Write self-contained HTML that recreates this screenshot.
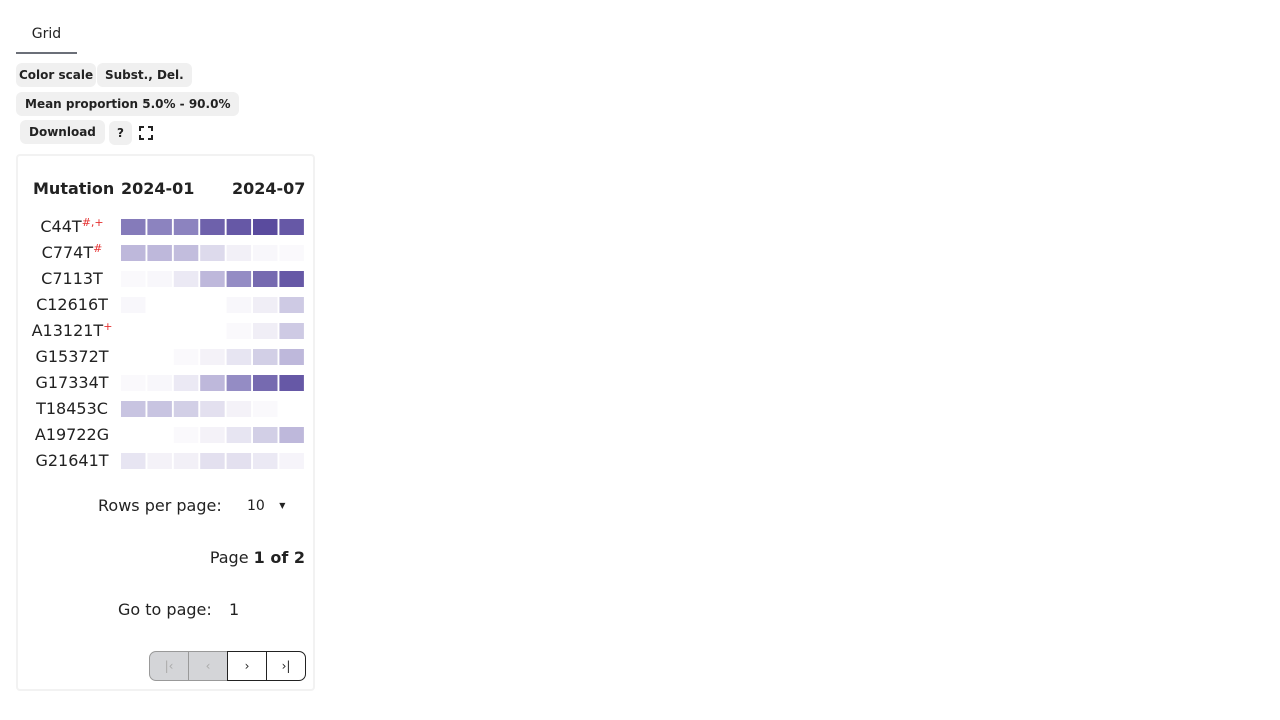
<!DOCTYPE html>
<html><head><meta charset="utf-8"><style>
body{margin:0;width:1280px;height:720px;background:#fff;font-family:"DejaVu Sans","Liberation Sans",sans-serif;color:#222;position:relative;overflow:hidden}
.abs{position:absolute}
.chip{position:absolute;background:#f0f0f0;border-radius:6px;font-size:12px;font-weight:bold;color:#222;line-height:24px;padding:0 8px;white-space:nowrap}
.pg{position:absolute;top:651px;width:38px;height:30px;border:1px solid #222;box-sizing:border-box;font-size:12px;text-align:center;line-height:28px}
</style></head><body>
<div class="abs" style="left:16px;top:24px;width:61px;height:30px;border-bottom:2px solid #6b6f78;box-sizing:border-box;text-align:center;font-size:14px;line-height:20px">Grid</div>
<div class="chip" style="left:16px;top:63px;padding:0 3px">Color scale</div>
<div class="chip" style="left:97px;top:63px">Subst., Del.</div>
<div class="chip" style="left:16px;top:92px;padding:0 9px">Mean proportion 5.0% - 90.0%</div>
<div class="chip" style="left:20px;top:120px;padding:0 9px">Download</div>
<div class="chip" style="left:109px;top:121px;padding:0 8px">?</div>
<svg class="abs" style="left:139px;top:126px" width="14" height="14"><path d="M1 5V1H5M9 1H13V5M13 9V13H9M5 13H1V9" fill="none" stroke="#222" stroke-width="2"/></svg>
<div class="abs" style="left:16px;top:154px;width:299px;height:537px;border:2px solid #f2f2f2;border-radius:4px;box-sizing:border-box"></div>
<div class="abs" style="left:33px;top:179px;font-size:16px;font-weight:bold">Mutation</div>
<div class="abs" style="left:121px;top:179px;font-size:16px;font-weight:bold">2024-01</div>
<div class="abs" style="left:232px;top:179px;font-size:16px;font-weight:bold">2024-07</div>
<svg id="hm" class="abs" style="left:0;top:0" width="320" height="480"></svg>
<div class="abs" style="left:98px;top:496px;font-size:16px">Rows per page:</div>
<div class="abs" style="left:247px;top:498px;font-size:14px">10 <span style="font-size:8px;margin-left:10px;vertical-align:2px">▼</span></div>
<div class="abs" style="right:975px;top:548px;font-size:16px">Page <b>1 of 2</b></div>
<div class="abs" style="left:118px;top:600px;font-size:16px">Go to page:</div>
<div class="abs" style="left:229px;top:600px;font-size:16px">1</div>
<div class="pg" style="left:149px;width:40px;background:#d4d5d8;border-color:#999;border-radius:7px 0 0 7px;color:#aaa">|‹</div>
<div class="pg" style="left:188px;width:40px;background:#d4d5d8;border-color:#999;color:#aaa">‹</div>
<div class="pg" style="left:227px;width:40px">›</div>
<div class="pg" style="left:266px;width:40px;border-radius:0 7px 7px 0">›|</div>
<script>
const mutations=["C44T","C774T","C7113T","C12616T","A13121T","G15372T","G17334T","T18453C","A19722G","G21641T"];
const marks=["#,+","#","","","+","","","","",""];
const months=["2024-01","2024-02","2024-03","2024-04","2024-05","2024-06","2024-07"];
const C44T=[.6,.55,.55,.75,.8,.88,.8];
const C774T=[.3,.3,.28,.15,.05,.02,.01];
const C7113T=[.01,.02,.08,.3,.5,.7,.8];
const C12616T=[.02,0,0,0,.02,.06,.22];
const A13121T=[0,0,0,0,.01,.06,.22];
const G15372T=[0,0,.01,.04,.1,.2,.3];
const G17334T=[.01,.02,.08,.3,.5,.7,.8];
const T18453C=[.25,.25,.2,.12,.04,.01,0];
const A19722G=[0,0,.01,.04,.1,.2,.3];
const G21641T=[.1,.04,.05,.12,.12,.08,.03];
const values=[C44T,C774T,C7113T,C12616T,A13121T,G15372T,G17334T,T18453C,A19722G,G21641T];
const svg=document.getElementById('hm');const NS="http://www.w3.org/2000/svg";
const x=i=>121+i*26.4, y=j=>219+j*26;
function col(t){const a=[252,251,253],m=[148,140,196],b=[72,54,146];let c;
 if(t<.5){const u=t/.5;c=a.map((v,k)=>v+(m[k]-v)*u)}else{const u=(t-.5)/.5;c=m.map((v,k)=>v+(b[k]-v)*u)}
 return `rgb(${c.map(Math.round).join(',')})`}
mutations.forEach((m,j)=>{
 const t=document.createElementNS(NS,'text');
 
 
 t.setAttribute('x',72);t.setAttribute('y',y(j)+13);t.setAttribute('text-anchor','middle');
 t.setAttribute('font-size','16');t.setAttribute('fill','#222');t.setAttribute('font-family','DejaVu Sans, sans-serif');
 t.textContent=m;
 if(marks[j]){const s=document.createElementNS(NS,'tspan');s.setAttribute('fill','#e53030');s.setAttribute('font-size','11');s.setAttribute('dy','-6');s.textContent=marks[j];t.appendChild(s);}
 svg.appendChild(t);
 values[j].forEach((v,i)=>{if(v<=0)return;
  const r=document.createElementNS(NS,'rect');
  
  
  r.setAttribute('x',x(i));r.setAttribute('y',y(j));r.setAttribute('width',24.5);r.setAttribute('height',16);r.setAttribute('fill',col(v));
  svg.appendChild(r);});
});
</script>
</body></html>
